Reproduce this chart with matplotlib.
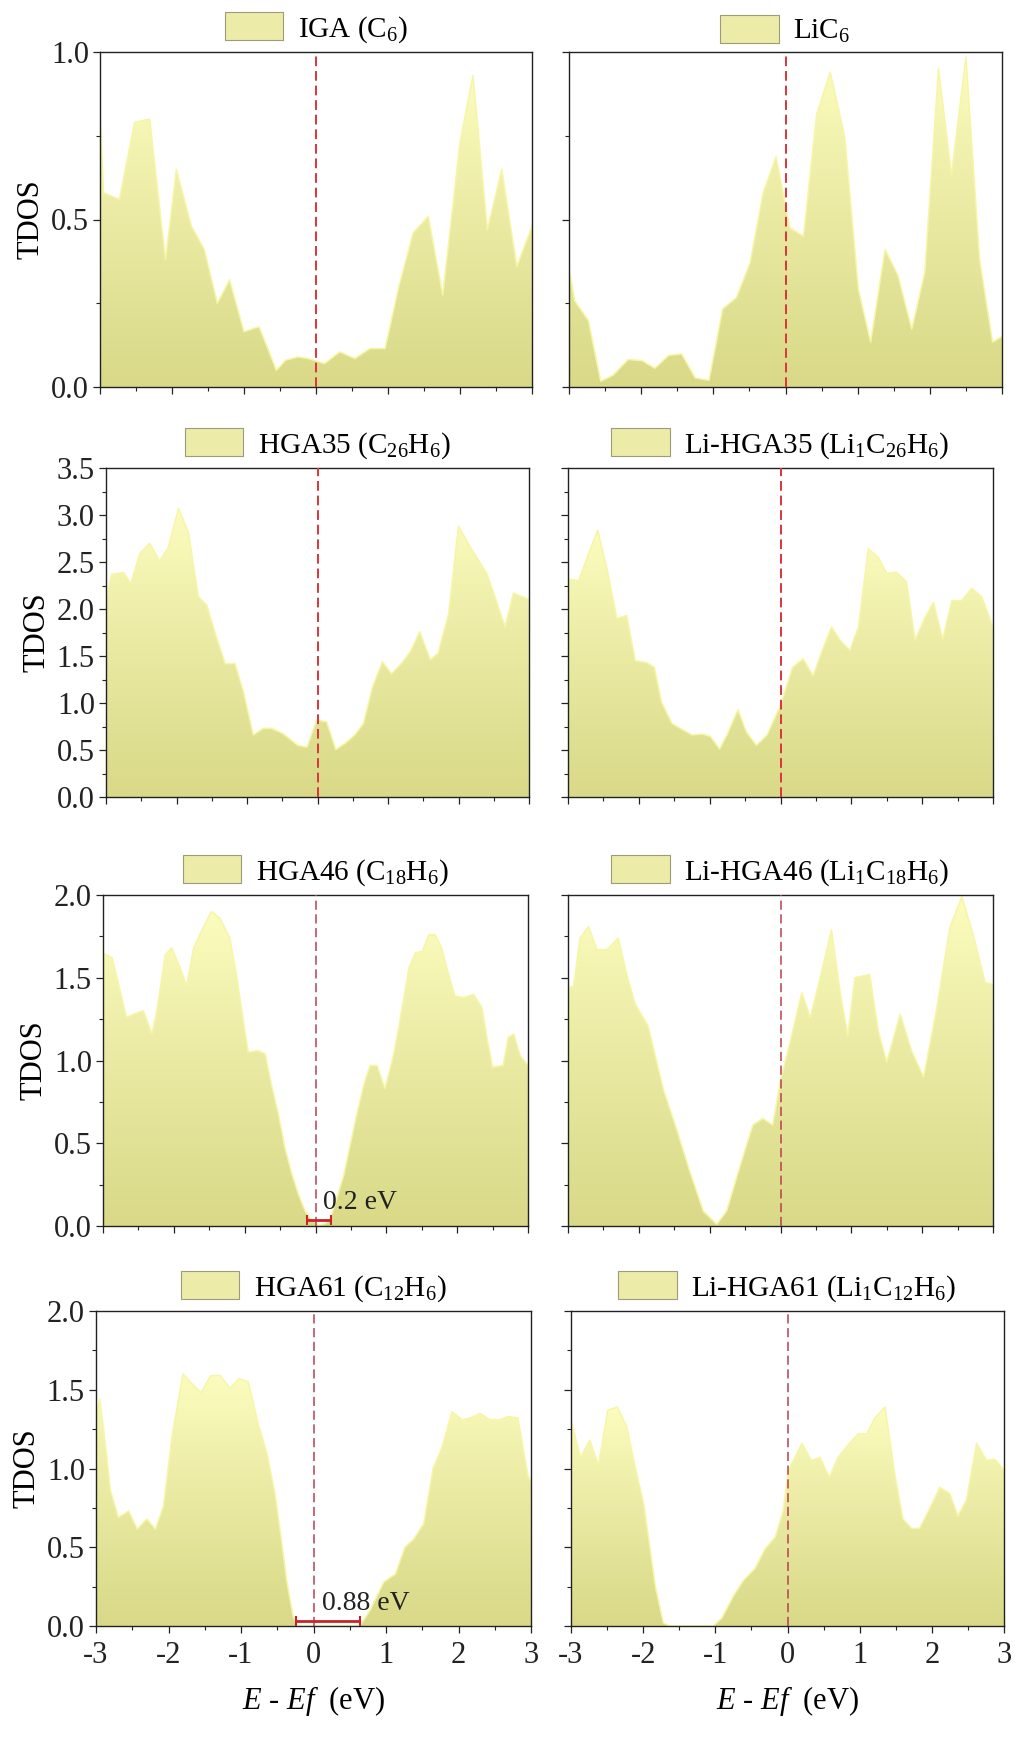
import numpy as np
import matplotlib
matplotlib.use('Agg')
import matplotlib.pyplot as plt
from matplotlib.colors import LinearSegmentedColormap
from matplotlib.patches import Patch
from matplotlib.ticker import MultipleLocator, FormatStrFormatter

plt.rcParams['font.family'] = ['Liberation Serif', 'DejaVu Serif']
plt.rcParams['mathtext.fontset'] = 'custom'
plt.rcParams['mathtext.rm'] = 'Liberation Serif'
plt.rcParams['mathtext.it'] = 'Liberation Serif:italic'
plt.rcParams['axes.unicode_minus'] = False

# ==================== DATA ====================
x_iga = [-3, -2.95, -2.73, -2.52, -2.31, -2.09, -1.94, -1.73, -1.55, -1.37, -1.2, -1.0,
         -0.79, -0.55, -0.42, -0.25, -0.11, 0.12, 0.33, 0.54, 0.75, 0.96, 1.15, 1.35,
         1.56, 1.76, 2.0, 2.18, 2.38, 2.58, 2.79, 3.0]
y_iga = [0.82, 0.58, 0.56, 0.79, 0.80, 0.38, 0.65, 0.48, 0.41, 0.25, 0.32, 0.165,
         0.18, 0.05, 0.08, 0.09, 0.085, 0.07, 0.105, 0.085, 0.115, 0.115, 0.30, 0.46,
         0.51, 0.275, 0.73, 0.93, 0.47, 0.65, 0.36, 0.48]

x_lic6 = [-3.0, -2.92, -2.73, -2.56, -2.39, -2.18, -1.99, -1.81, -1.62, -1.44, -1.25, -1.06,
          -0.87, -0.68, -0.49, -0.31, -0.13, 0.06, 0.25, 0.43, 0.62, 0.82, 1.01, 1.18,
          1.38, 1.56, 1.75, 1.93, 2.12, 2.30, 2.50, 2.69, 2.87, 3.0]
y_lic6 = [0.356, 0.257, 0.198, 0.017, 0.035, 0.082, 0.079, 0.056, 0.094, 0.099, 0.027, 0.02,
          0.233, 0.267, 0.371, 0.579, 0.688, 0.475, 0.45, 0.812, 0.94, 0.748, 0.292, 0.134,
          0.411, 0.332, 0.173, 0.342, 0.95, 0.634, 0.985, 0.381, 0.134, 0.151]

x_hga35 = [-3.0, -2.92, -2.75, -2.65, -2.52, -2.38, -2.24, -2.12, -1.97, -1.83, -1.69, -1.57,
           -1.45, -1.31, -1.17, -1.05, -0.91, -0.77, -0.65, -0.49, -0.28, -0.15, -0.01, 0.13,
           0.26, 0.39, 0.53, 0.65, 0.78, 0.92, 1.05, 1.19, 1.32, 1.45, 1.60, 1.71,
           1.86, 2.00, 2.19, 2.40, 2.54, 2.66, 2.78, 3.0]
y_hga35 = [2.10, 2.37, 2.39, 2.27, 2.59, 2.70, 2.51, 2.65, 3.07, 2.81, 2.13, 2.04,
           1.74, 1.42, 1.42, 1.12, 0.66, 0.73, 0.73, 0.675, 0.55, 0.53, 0.82, 0.80,
           0.505, 0.57, 0.66, 0.78, 1.17, 1.44, 1.31, 1.42, 1.55, 1.76, 1.46, 1.53,
           1.95, 2.88, 2.63, 2.38, 2.08, 1.81, 2.17, 2.10]

x_lihga35 = [-3.0, -2.85, -2.71, -2.58, -2.45, -2.31, -2.17, -2.05, -1.89, -1.78, -1.68, -1.53,
             -1.39, -1.25, -1.11, -0.99, -0.86, -0.75, -0.60, -0.48, -0.34, -0.19, 0.0, 0.17,
             0.32, 0.46, 0.58, 0.72, 0.84, 0.98, 1.10, 1.24, 1.38, 1.50, 1.64, 1.78,
             1.90, 2.04, 2.16, 2.29, 2.42, 2.56, 2.70, 2.84, 3.0]
y_lihga35 = [2.32, 2.30, 2.59, 2.84, 2.43, 1.90, 1.93, 1.45, 1.43, 1.38, 1.01, 0.78,
             0.72, 0.66, 0.67, 0.645, 0.51, 0.67, 0.93, 0.69, 0.55, 0.66, 0.975, 1.38,
             1.47, 1.29, 1.54, 1.81, 1.67, 1.56, 1.81, 2.64, 2.55, 2.38, 2.39, 2.29,
             1.67, 1.91, 2.07, 1.68, 2.09, 2.09, 2.22, 2.13, 1.81]

x_hga46 = [-3.0, -2.87, -2.78, -2.67, -2.57, -2.43, -2.31, -2.24, -2.12, -2.03, -1.91, -1.82,
           -1.72, -1.61, -1.47, -1.35, -1.21, -1.11, -1.04, -0.95, -0.81, -0.71, -0.62, -0.52,
           -0.43, -0.33, -0.24, -0.14, -0.05, 0.05, 0.14, 0.21, 0.30, 0.40, 0.49, 0.58,
           0.68, 0.77, 0.87, 0.98, 1.10, 1.20, 1.32, 1.41, 1.51, 1.60, 1.69, 1.78,
           1.88, 1.97, 2.09, 2.23, 2.35, 2.42, 2.50, 2.65, 2.72, 2.80, 2.89, 3.0]
y_hga46 = [1.65, 1.62, 1.46, 1.26, 1.28, 1.30, 1.16, 1.30, 1.64, 1.68, 1.56, 1.45,
           1.68, 1.78, 1.90, 1.86, 1.74, 1.50, 1.30, 1.05, 1.06, 1.04, 0.85, 0.67,
           0.47, 0.31, 0.19, 0.085, 0.035, 0.005, 0.015, 0.045, 0.165, 0.31, 0.49, 0.67,
           0.85, 0.97, 0.97, 0.83, 1.03, 1.26, 1.56, 1.65, 1.66, 1.76, 1.76, 1.68,
           1.52, 1.39, 1.38, 1.40, 1.32, 1.14, 0.96, 0.97, 1.14, 1.16, 1.03, 0.97]

x_lihga46 = [-3.0, -2.92, -2.83, -2.71, -2.59, -2.45, -2.29, -2.17, -2.05, -1.87, -1.65, -1.47,
             -1.28, -1.09, -0.90, -0.76, -0.58, -0.39, -0.25, -0.11, 0.0, 0.14, 0.30, 0.42,
             0.56, 0.72, 0.84, 0.95, 1.05, 1.26, 1.38, 1.50, 1.69, 1.85, 2.02, 2.20,
             2.39, 2.56, 2.72, 2.89, 3.0]
y_lihga46 = [1.44, 1.45, 1.74, 1.81, 1.67, 1.67, 1.74, 1.52, 1.34, 1.21, 0.82, 0.59,
             0.33, 0.09, 0.01, 0.09, 0.35, 0.61, 0.65, 0.61, 0.88, 1.12, 1.41, 1.26,
             1.50, 1.79, 1.42, 1.15, 1.50, 1.52, 1.18, 0.99, 1.28, 1.06, 0.90, 1.30,
             1.80, 1.99, 1.76, 1.47, 1.46]

x_hga61 = [-3.0, -2.95, -2.89, -2.80, -2.69, -2.55, -2.43, -2.30, -2.18, -2.07, -1.95, -1.80,
           -1.68, -1.55, -1.42, -1.29, -1.15, -1.03, -0.90, -0.76, -0.64, -0.53, -0.44, -0.37,
           -0.28, -0.23, 0.64, 0.78, 0.97, 1.13, 1.26, 1.38, 1.52, 1.65, 1.77, 1.91,
           2.05, 2.16, 2.30, 2.43, 2.57, 2.69, 2.82, 2.96, 3.0]
y_hga61 = [1.32, 1.44, 1.23, 0.86, 0.69, 0.73, 0.615, 0.68, 0.615, 0.76, 1.21, 1.60,
           1.54, 1.48, 1.59, 1.59, 1.51, 1.57, 1.55, 1.28, 1.09, 0.84, 0.54, 0.29,
           0.06, 0.0, 0.0, 0.10, 0.28, 0.33, 0.50, 0.55, 0.65, 1.00, 1.13, 1.36,
           1.31, 1.32, 1.35, 1.31, 1.31, 1.33, 1.32, 0.95, 0.92]

x_lihga61 = [-3.0, -2.87, -2.74, -2.62, -2.49, -2.36, -2.23, -2.11, -1.99, -1.83, -1.72, -1.63,
             -1.03, -0.91, -0.75, -0.61, -0.45, -0.31, -0.17, -0.06, 0.01, 0.08, 0.20, 0.33,
             0.45, 0.58, 0.70, 0.84, 0.98, 1.10, 1.21, 1.35, 1.49, 1.60, 1.72, 1.83,
             1.97, 2.11, 2.25, 2.36, 2.48, 2.62, 2.76, 2.87, 3.0]
y_lihga61 = [1.31, 1.07, 1.18, 1.02, 1.37, 1.39, 1.27, 1.01, 0.77, 0.25, 0.02, 0.0,
             0.0, 0.05, 0.19, 0.29, 0.365, 0.49, 0.565, 0.73, 0.99, 1.05, 1.16, 1.05,
             1.07, 0.945, 1.07, 1.15, 1.22, 1.22, 1.32, 1.39, 0.955, 0.68, 0.62, 0.62,
             0.745, 0.88, 0.84, 0.70, 0.80, 1.16, 1.05, 1.06, 0.99]

labels = [r'IGA (C$_{\mathrm{6}}$)', r'LiC$_{\mathrm{6}}$',
          r'HGA35 (C$_{\mathrm{26}}$H$_{\mathrm{6}}$)',
          r'Li-HGA35 (Li$_{\mathrm{1}}$C$_{\mathrm{26}}$H$_{\mathrm{6}}$)',
          r'HGA46 (C$_{\mathrm{18}}$H$_{\mathrm{6}}$)',
          r'Li-HGA46 (Li$_{\mathrm{1}}$C$_{\mathrm{18}}$H$_{\mathrm{6}}$)',
          r'HGA61 (C$_{\mathrm{12}}$H$_{\mathrm{6}}$)',
          r'Li-HGA61 (Li$_{\mathrm{1}}$C$_{\mathrm{12}}$H$_{\mathrm{6}}$)']
row_ymax = [1.0, 3.5, 2.0, 2.0]
row_ymajor = [0.5, 0.5, 0.5, 0.5]
row_yminor = [0.25, 0.25, 0.25, 0.25]

# band gaps: (left, right, bar height, text x, text y, text)
gap_hga46 = (-0.12, 0.22, 0.035, 0.11, 0.10, '0.2 eV')
gap_hga61 = (-0.24, 0.64, 0.03, 0.12, 0.10, '0.88 eV')

series = [(x_iga, y_iga), (x_lic6, y_lic6), (x_hga35, y_hga35), (x_lihga35, y_lihga35),
          (x_hga46, y_hga46), (x_lihga46, y_lihga46), (x_hga61, y_hga61), (x_lihga61, y_lihga61)]
gaps = {4: gap_hga46, 6: gap_hga61}

# ==================== LAYOUT (pixels of the 1015x1737 image) ====================
W, H = 1015, 1737
boxes = [(100, 532, 52, 387), (569, 1002, 52, 387),
         (106, 529, 468, 797), (568, 993, 468, 797),
         (103, 528, 895, 1226), (568, 993, 895, 1226),
         (96, 531, 1311, 1626), (571, 1004, 1311, 1626)]

tdos_cmap = LinearSegmentedColormap.from_list('tdos', ['#D9D988', '#E9E9A2', '#FCFCBE'])
fill_mid = '#ECECA8'
edge_col = '#F6F6A6'

fig = plt.figure(figsize=(W / 100, H / 100), dpi=100)


def grad_fill(ax, x, y):
    x = np.asarray(x)
    y = np.asarray(y)
    poly = ax.fill_between(x, y, 0, facecolor='none', edgecolor='none')
    path = poly.get_paths()[0]
    grad = np.linspace(0, 1, 256).reshape(-1, 1)
    im = ax.imshow(grad, extent=[x[0], x[-1], 0, y.max()], origin='lower',
                   aspect='auto', cmap=tdos_cmap, zorder=1, interpolation='bilinear')
    im.set_clip_path(path, transform=ax.transData)
    ax.plot(x, y, color=edge_col, lw=1.1, zorder=2)


for i, (xs, ys) in enumerate(series):
    l, r, t, b = boxes[i]
    ax = fig.add_axes([l / W, 1 - b / H, (r - l) / W, (b - t) / H])
    row, col = divmod(i, 2)

    grad_fill(ax, xs, ys)

    if row < 2:
        ax.axvline(0, color='#D8363A', lw=1.4, dashes=(5, 2.5), zorder=3)
    else:
        ax.axvline(0, color='#B8404C', lw=1.1, dashes=(6, 3), zorder=3)

    if i in gaps:
        g0, g1, gy, tx, ty, txt = gaps[i]
        ax.errorbar((g0 + g1) / 2, gy, xerr=(g1 - g0) / 2, fmt='none',
                    ecolor='#C8242A', elinewidth=2, capsize=3.5, capthick=1.5, zorder=4)
        ax.text(tx, ty, txt, fontsize=20, color='#222222', zorder=5)

    ax.set_xlim(-3, 3)
    ax.set_ylim(0, row_ymax[row])
    ax.xaxis.set_major_locator(MultipleLocator(1))
    ax.xaxis.set_minor_locator(MultipleLocator(0.5))
    ax.yaxis.set_major_locator(MultipleLocator(row_ymajor[row]))
    ax.yaxis.set_minor_locator(MultipleLocator(row_yminor[row]))
    ax.yaxis.set_major_formatter(FormatStrFormatter('%.1f'))
    ax.xaxis.set_major_formatter(FormatStrFormatter('%d'))
    ax.tick_params(which='major', direction='out', length=5, width=0.9,
                   labelsize=22, pad=3, colors='#222222')
    ax.tick_params(axis='x', which='major', pad=6)
    ax.tick_params(which='minor', direction='out', length=3, width=0.8, colors='#222222')
    for sp in ax.spines.values():
        sp.set_linewidth(1.0)
        sp.set_color('#222222')

    if col == 1:
        ax.tick_params(labelleft=False)
    else:
        ax.set_ylabel('TDOS', fontsize=22, labelpad=4)
    if row < 3:
        ax.tick_params(labelbottom=False)
    else:
        ax.set_xlabel(r'$E$ - $Ef$  (eV)', fontsize=22, labelpad=10)

    handle = Patch(facecolor=fill_mid, edgecolor='#9C9C7A', lw=0.8)
    ax.legend(handles=[handle], labels=[labels[i]], loc='lower center',
              bbox_to_anchor=(0.5, 1.0), frameon=False, fontsize=21,
              handlelength=2.0, handleheight=1.1, handletextpad=0.5,
              borderpad=0.1, borderaxespad=0.15)

fig.savefig('out.png', dpi=100)
